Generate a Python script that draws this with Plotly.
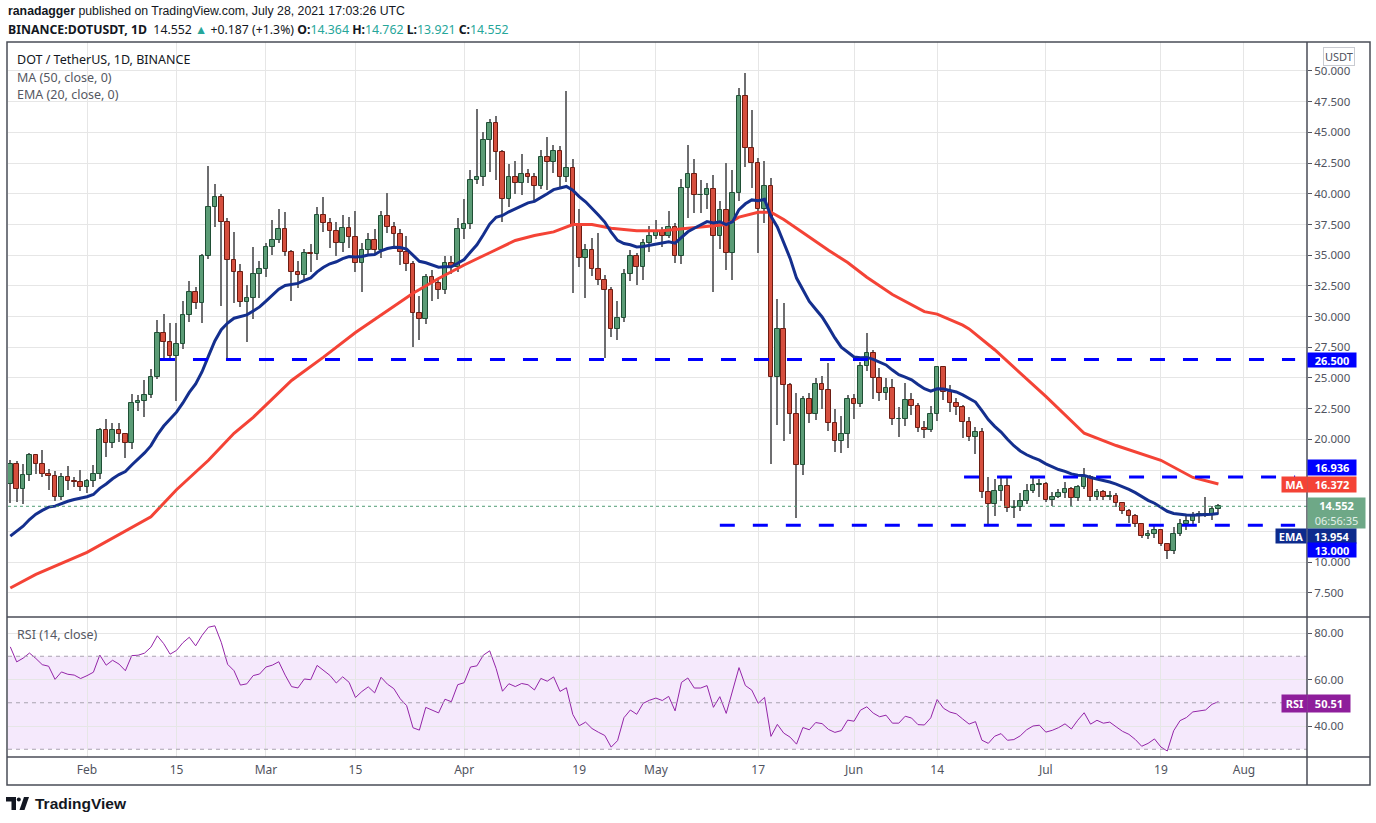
import pandas as pd
import plotly.graph_objects as go

# ---- data (daily candles, Jan 20 .. Jul 28 2021) ----
dates = pd.date_range("2021-01-20", periods=190, freq="D")

opens = [16.4, 18.0, 16.0, 17.1, 18.7, 18.0, 17.2, 17.0, 15.3, 16.9,
         16.6, 16.5, 16.1, 16.6, 17.2, 20.8, 19.7, 20.8, 20.4, 19.7,
         23.0, 23.1, 23.6, 25.1, 28.7, 27.9, 26.8, 27.8, 30.1, 32.0,
         31.1, 34.9, 38.9, 39.7, 37.7, 34.6, 33.6, 31.2, 31.5, 33.5,
         33.9, 35.7, 36.2, 37.1, 35.3, 33.6, 33.4, 35.2, 35.1, 38.3,
         37.6, 37.0, 36.0, 37.2, 36.5, 34.4, 35.4, 36.2, 35.4, 38.2,
         37.3, 36.7, 35.3, 34.3, 30.3, 29.8, 33.2, 32.7, 32.2, 34.4,
         34.0, 37.1, 37.5, 41.1, 41.4, 44.4, 45.8, 43.4, 39.6, 41.4,
         40.9, 41.6, 41.4, 40.6, 43.0, 42.6, 43.5, 41.4, 42.1, 37.4,
         34.8, 35.4, 33.9, 33.0, 32.2, 29.0, 29.9, 33.5, 34.9, 34.0,
         36.0, 36.6, 37.0, 36.6, 37.3, 34.9, 40.5, 41.6, 39.9, 39.9,
         40.4, 36.6, 38.7, 35.2, 40.1, 48.0, 43.7, 42.5, 38.8, 40.6,
         25.1, 29.0, 24.4, 22.1, 17.9, 23.3, 22.1, 24.5, 24.0, 21.3,
         19.9, 20.4, 23.3, 22.9, 26.0, 27.0, 25.0, 23.8, 24.2, 21.7,
         21.7, 23.2, 22.7, 20.9, 20.8, 22.1, 25.9, 23.9, 23.0, 22.6,
         21.4, 20.2, 20.6, 15.7, 14.7, 15.8, 16.2, 14.4, 14.5, 15.0,
         15.8, 16.3, 16.4, 15.1, 15.3, 15.6, 16.0, 15.2, 16.1, 16.9,
         15.3, 15.7, 15.3, 15.4, 14.8, 14.2, 13.8, 13.1, 12.1, 12.3,
         12.6, 11.5, 10.9, 12.3, 13.1, 13.35, 13.8, 13.9, 13.95, 14.364]

highs = [18.3, 18.2, 18.0, 18.9, 18.8, 19.1, 17.6, 17.4, 17.3, 17.8,
         16.9, 17.5, 16.8, 17.9, 20.9, 21.7, 21.3, 21.3, 20.5, 23.7,
         23.6, 24.8, 25.7, 29.7, 30.2, 29.5, 29.5, 31.3, 32.9, 32.4,
         35.1, 42.3, 40.8, 40.0, 38.0, 36.9, 34.3, 32.6, 35.7, 34.5,
         36.0, 37.9, 38.8, 38.5, 35.4, 34.5, 35.5, 35.9, 38.9, 39.7,
         38.0, 37.7, 38.3, 38.1, 38.6, 36.0, 36.8, 37.1, 38.6, 40.1,
         37.7, 37.1, 36.6, 34.5, 31.7, 33.5, 33.8, 33.0, 34.9, 34.9,
         38.0, 39.6, 41.9, 46.9, 45.0, 46.1, 46.3, 43.6, 42.4, 42.7,
         43.2, 42.0, 41.7, 43.6, 44.6, 44.0, 43.9, 48.4, 42.8, 38.8,
         35.9, 36.4, 36.8, 33.4, 32.4, 31.3, 33.9, 35.4, 35.2, 36.3,
         37.4, 37.9, 37.3, 38.6, 37.6, 41.2, 44.0, 42.8, 41.1, 40.9,
         41.5, 39.4, 42.5, 41.9, 48.6, 49.8, 46.8, 42.9, 42.7, 41.3,
         31.4, 31.1, 24.6, 23.8, 23.5, 23.8, 25.0, 25.2, 26.2, 22.5,
         21.9, 23.6, 23.7, 26.3, 28.7, 27.3, 25.8, 25.0, 24.9, 22.6,
         24.6, 23.8, 23.0, 21.5, 22.7, 26.0, 26.0, 24.4, 23.4, 22.8,
         21.8, 21.0, 20.9, 16.9, 16.8, 16.9, 16.9, 15.1, 15.6, 16.4,
         16.9, 16.8, 16.5, 15.7, 16.0, 16.5, 16.1, 16.3, 17.7, 17.1,
         16.0, 15.9, 15.8, 15.6, 14.9, 14.3, 13.9, 13.2, 12.6, 13.0,
         12.7, 11.6, 12.9, 13.5, 13.8, 14.1, 14.2, 15.3, 14.6, 14.762]

lows = [14.8, 14.9, 14.7, 16.6, 17.2, 16.9, 15.9, 15.0, 15.1, 15.9,
        16.1, 15.8, 15.6, 16.1, 16.8, 18.6, 19.3, 19.8, 18.5, 19.2,
        22.3, 21.8, 23.4, 24.9, 26.6, 26.4, 23.1, 27.4, 29.6, 30.6,
        29.5, 34.7, 37.3, 30.9, 26.5, 31.1, 30.8, 27.9, 29.8, 31.5,
        33.2, 35.0, 36.0, 34.9, 31.3, 32.3, 33.1, 33.6, 34.6, 36.9,
        35.6, 34.9, 35.3, 35.6, 33.6, 32.0, 35.1, 35.0, 34.8, 36.8,
        35.6, 34.2, 33.7, 27.5, 28.1, 29.4, 31.3, 31.4, 31.8, 33.5,
        33.6, 36.3, 37.1, 40.8, 40.6, 41.8, 41.1, 37.7, 38.9, 40.0,
        39.9, 40.9, 39.3, 40.4, 40.3, 41.7, 40.4, 41.0, 31.9, 34.0,
        31.5, 33.3, 32.6, 26.6, 28.3, 28.1, 29.6, 32.9, 32.6, 33.0,
        35.3, 36.3, 35.7, 36.4, 34.4, 34.3, 38.0, 38.4, 38.4, 38.8,
        32.0, 35.5, 33.8, 33.0, 39.4, 42.2, 40.5, 35.2, 37.6, 18.0,
        21.2, 19.9, 20.4, 13.6, 17.1, 21.3, 21.6, 22.5, 20.7, 19.0,
        18.9, 19.3, 21.7, 22.6, 25.6, 23.3, 23.1, 23.2, 21.2, 20.2,
        21.1, 22.0, 20.6, 20.1, 20.6, 21.5, 23.2, 22.2, 22.0, 20.1,
        19.9, 18.8, 15.2, 13.0, 13.8, 15.0, 14.1, 13.6, 14.2, 14.7,
        15.6, 15.3, 14.9, 14.6, 15.2, 15.2, 14.6, 15.0, 16.0, 15.0,
        15.1, 15.1, 15.1, 14.5, 13.9, 13.2, 12.9, 12.0, 11.9, 12.0,
        11.3, 10.3, 10.7, 12.1, 12.6, 13.1, 13.2, 13.7, 13.4, 13.921]

closes = [18.0, 16.0, 17.1, 18.7, 18.0, 17.2, 17.0, 15.3, 16.9, 16.6,
          16.5, 16.1, 16.6, 17.2, 20.8, 19.7, 20.8, 20.4, 19.7, 23.0,
          23.1, 23.6, 25.1, 28.7, 27.9, 26.8, 27.8, 30.1, 32.0, 31.1,
          34.9, 38.9, 39.7, 37.7, 34.6, 33.6, 31.2, 31.5, 33.5, 33.9,
          35.7, 36.2, 37.1, 35.3, 33.6, 33.4, 35.2, 35.1, 38.3, 37.6,
          37.0, 36.0, 37.2, 36.5, 34.4, 35.4, 36.2, 35.4, 38.2, 37.3,
          36.7, 35.3, 34.3, 30.3, 29.8, 33.2, 32.7, 32.2, 34.4, 34.0,
          37.1, 37.5, 41.1, 41.4, 44.4, 45.8, 43.4, 39.6, 41.4, 40.9,
          41.6, 41.4, 40.6, 43.0, 42.6, 43.5, 41.4, 42.1, 37.4, 34.8,
          35.4, 33.9, 33.0, 32.2, 29.0, 29.9, 33.5, 34.9, 34.0, 36.0,
          36.6, 37.0, 36.6, 37.3, 34.9, 40.5, 41.6, 39.9, 39.9, 40.4,
          36.6, 38.7, 35.2, 40.1, 48.0, 43.7, 42.5, 38.8, 40.6, 25.1,
          29.0, 24.4, 22.1, 17.9, 23.3, 22.1, 24.5, 24.0, 21.3, 19.9,
          20.4, 23.3, 22.9, 26.0, 27.0, 25.0, 23.8, 24.2, 21.7, 21.7,
          23.2, 22.7, 20.9, 20.8, 22.1, 25.9, 23.9, 23.0, 22.6, 21.4,
          20.2, 20.6, 15.7, 14.7, 15.8, 16.2, 14.4, 14.5, 15.0, 15.8,
          16.3, 16.4, 15.1, 15.3, 15.6, 16.0, 15.2, 16.1, 16.9, 15.3,
          15.7, 15.3, 15.4, 14.8, 14.2, 13.8, 13.1, 12.1, 12.3, 12.6,
          11.5, 10.9, 12.3, 13.1, 13.35, 13.8, 13.9, 13.95, 14.36, 14.552]

# MA(50) (candle number, value)
ma_idx = [1, 5, 13, 23, 27, 32, 36, 39, 45, 50, 55, 60, 64, 68, 72, 76, 80, 83,
          86, 89, 92, 95, 99, 103, 107, 110, 113, 115, 118, 120, 122, 124, 127,
          129, 132, 135, 139, 144, 146, 150, 151, 155, 163, 169, 174, 181, 186, 190]
ma_vals = [7.9, 9.0, 10.8, 13.7, 15.9, 18.3, 20.5, 21.8, 24.8, 26.7, 28.7, 30.5,
           31.9, 33.1, 34.2, 35.2, 36.2, 36.6, 36.9, 37.5, 37.5, 37.2, 37.0, 37.0,
           37.2, 37.4, 37.5, 38.1, 38.5, 38.5, 37.9, 37.2, 36.1, 35.4, 34.4, 33.2,
           31.8, 30.4, 30.2, 29.3, 29.0, 27.3, 23.5, 20.5, 19.5, 18.3, 16.9, 16.37]

ema_start = 11.5                 # EMA(20) value before the first visible day
rsi_start_gain, rsi_start_loss = 1.16, 0.45

levels = [26.5, 16.936, 13.0]
level_from = ["2021-02-12 10:00", "2021-06-18 05:00", "2021-05-11 00:00"]
level_to = "2021-08-09"

last_price = 14.552
ma_last, ema_last, rsi_last = 16.372, 13.954, 50.51

price_ticks = [7.5, 10, 12.5, 15, 17.5, 20, 22.5, 25, 27.5, 30, 32.5, 35, 37.5,
               40, 42.5, 45, 47.5, 50]
hidden_ticks = [12.5, 15, 17.5]   # covered by the price tags on the axis

tick_dates = ["2021-02-01", "2021-02-15", "2021-03-01", "2021-03-15", "2021-04-01",
              "2021-04-19", "2021-05-01", "2021-05-17", "2021-06-01", "2021-06-14",
              "2021-07-01", "2021-07-19", "2021-08-01"]
tick_text = ["Feb", "15", "Mar", "15", "Apr", "19", "May", "17", "Jun", "14",
             "Jul", "19", "Aug"]

# ---- indicators ----
ema = []
e = ema_start
for c in closes:
    e = e + (c - e) * 2 / 21
    ema.append(e)

rsi = []
ag, al = rsi_start_gain, rsi_start_loss
prev = opens[0]
for c in closes:
    ch = c - prev
    ag = (ag * 13 + max(ch, 0)) / 14
    al = (al * 13 + max(-ch, 0)) / 14
    rsi.append(100 - 100 / (1 + ag / al))
    prev = c

ma_dates = [dates[i - 1] for i in ma_idx]

# ---- page geometry ----
W, H = 1376, 823
L, R, T, B = 8, 69, 42, 66
PW, PH = W - L - R, H - T - B


def px(x):
    return (x - L) / PW


def py(y):
    return (H - B - y) / PH


FONT = "Noto Sans"
GREEN, GREEN_EDGE = "#5b9c76", "#1f4f35"
RED, RED_EDGE = "#d64f3e", "#6d1c12"
DAY = 86400000

up = [c >= o for o, c in zip(opens, closes)]

fig = go.Figure()

# wicks
fig.add_trace(go.Bar(x=dates, base=lows, y=[h - l for h, l in zip(highs, lows)],
                     width=0.2 * DAY, marker_color="#6e6e70", marker_line_width=0,
                     hoverinfo="skip"))
# bodies
fig.add_trace(go.Bar(x=dates, base=opens, y=[c - o for o, c in zip(opens, closes)],
                     width=0.72 * DAY,
                     marker_color=[GREEN if u else RED for u in up],
                     marker_line_color=[GREEN_EDGE if u else RED_EDGE for u in up],
                     marker_line_width=1, hoverinfo="skip"))

fig.add_trace(go.Scatter(x=ma_dates, y=ma_vals, mode="lines",
                         line=dict(color="#f44336", width=3), hoverinfo="skip"))
fig.add_trace(go.Scatter(x=dates, y=ema, mode="lines",
                         line=dict(color="#142f8e", width=3), hoverinfo="skip"))
fig.add_trace(go.Scatter(x=dates, y=rsi, mode="lines", xaxis="x2", yaxis="y2",
                         line=dict(color="#9425a8", width=1), hoverinfo="skip"))

shapes = []
# RSI band and levels
shapes.append(dict(type="rect", xref="x2 domain", yref="y2", x0=0, x1=1, y0=30, y1=70,
                   fillcolor="rgba(156,39,230,0.10)", line_width=0, layer="below"))
for lv in (70, 50, 30):
    shapes.append(dict(type="line", xref="x2 domain", yref="y2", x0=0, x1=1, y0=lv, y1=lv,
                       line=dict(color="#a9a3b0", width=1, dash="4px,4px")))
# horizontal support / resistance levels
for lv, x0 in zip(levels, level_from):
    shapes.append(dict(type="line", xref="x", yref="y", x0=x0, x1=level_to, y0=lv, y1=lv,
                       line=dict(color="#0000ff", width=3, dash="15px,18px")))
# last price line
shapes.append(dict(type="line", xref="x domain", yref="y", x0=0, x1=1,
                   y0=last_price, y1=last_price,
                   line=dict(color="#4f9c74", width=1, dash="dot")))
# frame
frame = "#4a4d57"
shapes += [
    dict(type="rect", xref="paper", yref="paper", x0=px(7), x1=px(1370), y0=py(785), y1=py(42),
         line=dict(color=frame, width=1.5)),
    dict(type="line", xref="paper", yref="paper", x0=px(7), x1=px(1370), y0=py(617), y1=py(617),
         line=dict(color=frame, width=1.5)),
    dict(type="line", xref="paper", yref="paper", x0=px(7), x1=px(1370), y0=py(757), y1=py(757),
         line=dict(color=frame, width=1.5)),
    dict(type="line", xref="paper", yref="paper", x0=px(1307), x1=px(1307), y0=py(785), y1=py(42),
         line=dict(color=frame, width=1.5)),
]


# TradingView logo
def path(pts):
    return "M" + " L".join(f"{px(x):.5f},{py(y):.5f}" for x, y in pts) + " Z"


shapes.append(dict(type="path", xref="paper", yref="paper", line_width=0, fillcolor="#131722",
                   path=path([(6, 797), (16, 797), (16, 810), (11.5, 810), (11.5, 801.5), (6, 801.5)])))
shapes.append(dict(type="circle", xref="paper", yref="paper", line_width=0, fillcolor="#131722",
                   x0=px(16.8), x1=px(20.8), y0=py(801.5), y1=py(797.5)))
shapes.append(dict(type="path", xref="paper", yref="paper", line_width=0, fillcolor="#131722",
                   path=path([(24, 797), (29, 797), (24.5, 810), (19.5, 810)])))

ann = []


def text(x, y, s, size=12, color="#131722", anchor="left", fam=FONT):
    ann.append(dict(x=px(x), y=py(y), xref="paper", yref="paper", text=s, showarrow=False,
                    xanchor=anchor, yanchor="middle", font=dict(family=fam, size=size, color=color)))


def tag(x, y, s, bg, w=48, h=15, fg="white", size=11):
    ann.append(dict(x=px(x), y=py(y), xref="paper", yref="paper", text=s, showarrow=False,
                    xanchor="left", yanchor="middle", bgcolor=bg, borderpad=0, width=w,
                    height=h, align="center", valign="middle",
                    font=dict(family=FONT, size=size, color=fg)))


teal = "#26a69a"
text(6, 11, "<b>ranadagger</b> published on TradingView.com, July 28, 2021 17:03:26 UTC",
     12.3, fam="Liberation Sans")
text(6, 29, f"<b>BINANCE:DOTUSDT, 1D</b>  {closes[-1]:.3f} <span style='color:{teal}'>▲</span> "
            f"+0.187 (+1.3%) <b>O:</b><span style='color:{teal}'>{opens[-1]:.3f}</span> "
            f"<b>H:</b><span style='color:{teal}'>{highs[-1]:.3f}</span> "
            f"<b>L:</b><span style='color:{teal}'>{lows[-1]:.3f}</span> "
            f"<b>C:</b><span style='color:{teal}'>{closes[-1]:.3f}</span>", 12.3)
text(15, 60, "DOT / TetherUS, 1D, BINANCE", 12.5, "#131722")
text(15, 77, "MA (50, close, 0)", 12.5, "#555862")
text(15, 94, "EMA (20, close, 0)", 12.5, "#555862")
text(15, 634, "RSI (14, close)", 12.5, "#555862")
text(33, 803, "<b>TradingView</b>", 15.5, "#131722", fam="Liberation Sans")

ann.append(dict(x=px(1323), y=py(57), xref="paper", yref="paper", text="USDT", showarrow=False,
                xanchor="left", yanchor="middle", bgcolor="white", bordercolor="#c9cbd1",
                borderwidth=1, borderpad=1, font=dict(family=FONT, size=11, color="#50535e")))

tag(1307, 360, f"<b>{levels[0]:.3f}</b>", "#0000ff", h=14)
tag(1307, 468, f"<b>{levels[1]:.3f}</b>", "#0000ff")
tag(1307, 485, f"<b>{ma_last:.3f}</b>", "#f44336")
tag(1281, 485, "<b>MA</b>", "#f44336", w=25)
tag(1307, 513, f"<b>{last_price:.3f}</b><br><span style='color:#e3f0e8'>06:56:35</span>",
    "#6ea887", w=57, h=30)
tag(1307, 536, f"<b>{ema_last:.3f}</b>", "#0d2b8d", h=14)
tag(1275, 536, "<b>EMA</b>", "#0d2b8d", w=30, h=14)
tag(1307, 550, f"<b>{levels[2]:.3f}</b>", "#0000ff", h=14)
tag(1307, 703, f"<b>{rsi_last:.2f}</b>", "#8e1e9b", w=42, h=17)
tag(1281, 703, "<b>RSI</b>", "#8e1e9b", w=25, h=17)

x_range = ["2021-01-19 15:22", "2021-08-10 20:38"]
grid = "#e6e6e6"
split = 140 / PH
axis_font = dict(family=FONT, size=12, color="#50535e")
price_font = dict(family=FONT, size=11.5, color="#50535e")

fig.update_layout(
    width=W, height=H, margin=dict(l=L, r=R, t=T, b=B),
    paper_bgcolor="white", plot_bgcolor="white",
    showlegend=False, barmode="overlay", bargap=0, hovermode=False,
    font=dict(family=FONT, size=11, color="#50535e"),
    shapes=shapes, annotations=ann,
    xaxis=dict(domain=[0, 1], anchor="y", range=x_range, tickvals=tick_dates,
               ticktext=tick_text, showticklabels=False, showgrid=True, gridcolor=grid,
               zeroline=False, fixedrange=True),
    xaxis2=dict(domain=[0, 1], anchor="y2", matches="x", range=x_range, tickvals=tick_dates,
                ticktext=tick_text, showgrid=True, gridcolor=grid, ticks="",
                ticklabelstandoff=4, tickfont=axis_font, zeroline=False),
    yaxis=dict(domain=[split, 1], anchor="x", side="right", range=[5.537, 52.36],
               tickvals=price_ticks,
               ticktext=["" if v in hidden_ticks else f"{v:.3f}" for v in price_ticks],
               showgrid=True, gridcolor=grid,
               ticks="outside", ticklen=4, tickcolor="#50535e", zeroline=False,
               tickfont=price_font),
    yaxis2=dict(domain=[0, split], anchor="x2", side="right", range=[26.67, 86.88],
                tickvals=[40, 60, 80], tickformat=".2f", showgrid=True, gridcolor=grid,
                ticks="outside", ticklen=4, tickcolor="#50535e", zeroline=False,
                tickfont=price_font),
)

# the page body has a default 8px margin; drop it so the figure sits at the window corner
fig.write_html("out.html", config={"displayModeBar": False},
               post_script="document.body.style.margin='0';")
